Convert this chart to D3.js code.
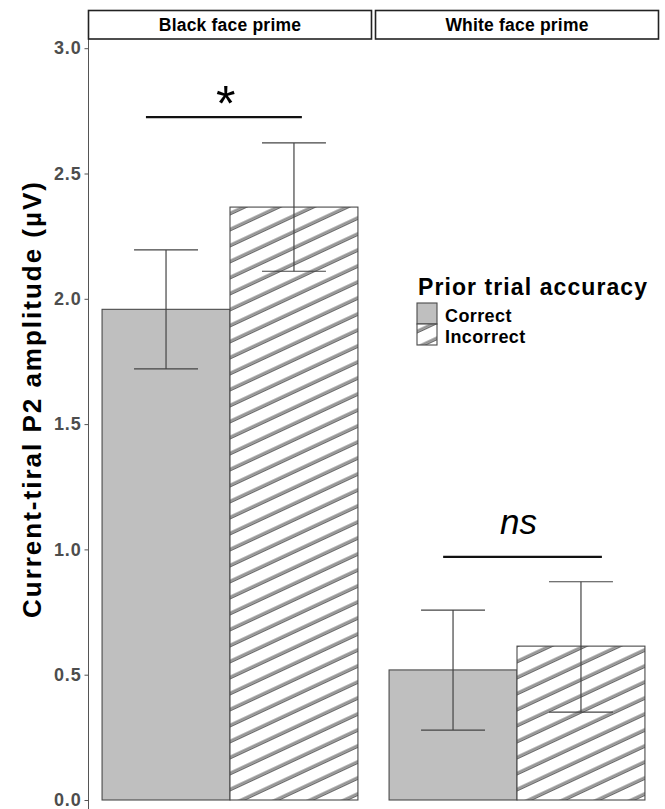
<!DOCTYPE html>
<html>
<head>
<meta charset="utf-8">
<script src="https://cdn.jsdelivr.net/npm/d3@7"></script>
<style>
  body { margin: 0; background: #fff; }
  text { font-family: "Liberation Sans", Arial, sans-serif; }
</style>
</head>
<body>
<svg width="665" height="809"></svg>
<script>
// chart data
var primes = ['Black face prime', 'White face prime']
var accuracy = ['Correct', 'Incorrect']
var means = [[1.958, 2.366], [0.519, 0.614]]
var ciLow = [[1.72, 2.11], [0.279, 0.351]]
var ciHigh = [[2.195, 2.622], [0.758, 0.871]]
var yTicks = [0, 0.5, 1.0, 1.5, 2.0, 2.5, 3.0]
var sigLabels = ['*', 'ns']
var sigY = [2.725, 0.97]
var sigFrom = [0.203, 0.239]
var sigTo = [0.754, 0.80]
var sigLabelX = [0.485, 0.505]

var svg = d3.select('svg')
var defs = svg.append('defs')

var hatch = defs.append('pattern')
  .attr('id', 'hatch')
  .attr('patternUnits', 'userSpaceOnUse')
  .attr('width', 40)
  .attr('height', 14.5)
  .attr('patternTransform', 'rotate(-25)')
hatch.append('rect').attr('width', 40).attr('height', 14.5).attr('fill', '#fff')
hatch.append('line').attr('x1', 0).attr('x2', 40).attr('y1', 7).attr('y2', 7)
  .attr('stroke', '#6a6a6a').attr('stroke-width', 3.2)
hatch.append('line').attr('x1', 0).attr('x2', 40).attr('y1', 7).attr('y2', 7)
  .attr('stroke', '#b5b5b5').attr('stroke-width', 1.2)

var fills = { Correct: '#bfbfbf', Incorrect: 'url(#hatch)' }

var y = d3.scaleLinear().domain([0, 3]).range([800, 48.2])

var panel = d3.scaleBand().domain(primes).range([88.5, 658.5]).paddingInner(0.014)

var x = d3.scaleBand().domain(accuracy).range([0, panel.bandwidth()])
  .paddingInner(0).paddingOuter(0.106)

// y axis
var yAxis = svg.append('g')
  .attr('transform', 'translate(88.5,0)')
  .call(d3.axisLeft(y).tickValues(yTicks).tickFormat(d3.format('.1f')).tickSize(4).tickPadding(3))
yAxis.select('.domain').attr('d', 'M0,39V809').attr('stroke', '#555')
yAxis.selectAll('.tick line').attr('stroke', '#555')
yAxis.selectAll('.tick text')
  .attr('font-size', 18).attr('font-weight', 'bold').attr('fill', '#4d4d4d')
  .attr('letter-spacing', 0.8)
  .style('font-family', '"Liberation Sans", Arial, sans-serif')

svg.append('text')
  .attr('transform', 'translate(41,400) rotate(-90)')
  .attr('text-anchor', 'middle')
  .attr('font-size', 26).attr('font-weight', 'bold')
  .attr('textLength', 436).attr('lengthAdjust', 'spacing')
  .text('Current-tiral P2 amplitude (\u00b5V)')

// panels
primes.forEach(function (p, i) {
  var g = svg.append('g').attr('transform', 'translate(' + panel(p) + ',0)')
  var w = panel.bandwidth()

  g.append('rect')
    .attr('x', 0).attr('y', 10.5).attr('width', w).attr('height', 28.5)
    .attr('fill', '#fff').attr('stroke', '#222').attr('stroke-width', 1.6)
  g.append('text')
    .attr('x', w / 2).attr('y', 31)
    .attr('text-anchor', 'middle')
    .attr('font-size', 17.5).attr('font-weight', 'bold')
    .attr('letter-spacing', 0.2)
    .text(p)

  var rows = accuracy.map(function (a, j) {
    return { acc: a, mean: means[i][j], lo: ciLow[i][j], hi: ciHigh[i][j] }
  })

  g.selectAll('rect.bar')
    .data(rows)
    .enter().append('rect')
    .attr('class', 'bar')
    .attr('x', function (d) { return x(d.acc) })
    .attr('y', function (d) { return y(d.mean) })
    .attr('width', x.bandwidth())
    .attr('height', function (d) { return y(0) - y(d.mean) })
    .attr('fill', function (d) { return fills[d.acc] })
    .attr('stroke', '#4a4a4a')
    .attr('stroke-width', 1.1)

  var eb = g.selectAll('g.err')
    .data(rows)
    .enter().append('g')
    .attr('class', 'err')
    .attr('stroke', '#444').attr('stroke-width', 1.2)
  eb.append('line')
    .attr('x1', function (d) { return x(d.acc) + x.bandwidth() / 2 })
    .attr('x2', function (d) { return x(d.acc) + x.bandwidth() / 2 })
    .attr('y1', function (d) { return y(d.lo) })
    .attr('y2', function (d) { return y(d.hi) })
  ;['lo', 'hi'].forEach(function (k) {
    eb.append('line')
      .attr('x1', function (d) { return x(d.acc) + x.bandwidth() / 4 })
      .attr('x2', function (d) { return x(d.acc) + x.bandwidth() * 3 / 4 })
      .attr('y1', function (d) { return y(d[k]) })
      .attr('y2', function (d) { return y(d[k]) })
  })

  // significance marker
  var u = d3.scaleLinear().domain([0, 1]).range([0, w])
  g.append('line')
    .attr('x1', u(sigFrom[i])).attr('x2', u(sigTo[i]))
    .attr('y1', y(sigY[i])).attr('y2', y(sigY[i]))
    .attr('stroke', '#111').attr('stroke-width', 2.2)
  var lab = g.append('text')
    .attr('x', u(sigLabelX[i]))
    .attr('text-anchor', 'middle')
    .text(sigLabels[i])
  if (sigLabels[i] === '*') {
    lab.attr('y', y(sigY[i]) + 4).attr('font-size', 50)
  } else {
    lab.attr('y', y(sigY[i]) - 23).attr('font-size', 35).attr('font-style', 'italic')
  }
})

// legend
var legend = svg.append('g').attr('transform', 'translate(417,0)')
legend.append('text')
  .attr('x', 1).attr('y', 295)
  .attr('font-size', 23).attr('font-weight', 'bold')
  .attr('textLength', 229).attr('lengthAdjust', 'spacing')
  .text('Prior trial accuracy')

var keys = legend.selectAll('g.key')
  .data(accuracy)
  .enter().append('g')
  .attr('class', 'key')
  .attr('transform', function (d, j) { return 'translate(0,' + (303 + j * 21) + ')' })
keys.append('rect')
  .attr('width', 20).attr('height', 21)
  .attr('fill', function (d) { return fills[d] })
  .attr('stroke', '#4a4a4a').attr('stroke-width', 1.1)
keys.append('text')
  .attr('x', 28).attr('y', 18.5)
  .attr('font-size', 18).attr('font-weight', 'bold')
  .attr('letter-spacing', 0.4)
  .text(function (d) { return d })
</script>
</body>
</html>
